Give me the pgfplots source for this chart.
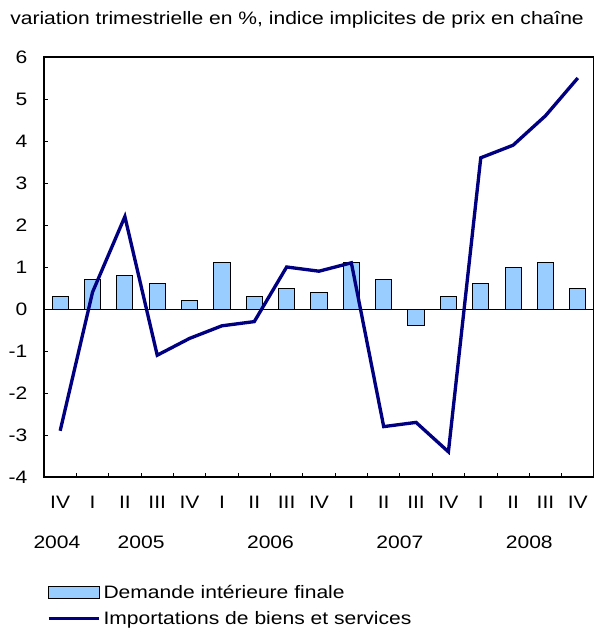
\documentclass[border=0pt]{standalone}
\usepackage{pgfplots}
\pgfplotsset{compat=1.18}
\usepackage{fontspec}
\setmainfont{Liberation Sans}[FakeStretch=1.17]
\definecolor{barblue}{RGB}{153,204,255}
\definecolor{linenavy}{RGB}{0,0,128}
\newcommand{\chartfont}{\fontsize{13.5}{16}\selectfont}

\begin{document}
\begin{tikzpicture}[font=\chartfont]
\begin{axis}[
  name=ax,
  scale only axis,
  width=412.5pt, height=315pt,
  xmin=-0.5, xmax=16.5,
  ymin=-4, ymax=6,
  ytick={-4,...,6},
  xtick={0.5,1.5,...,15.5},
  xticklabels={},
  extra x ticks={0,...,16},
  extra x tick labels={IV,I,II,III,IV,I,II,III,IV,I,II,III,IV,I,II,III,IV},
  extra x tick style={tick style={draw=none}},
  extra y ticks={0},
  extra y tick labels={},
  extra y tick style={grid=major, major grid style={black, line width=0.7pt}, tick style={draw=none}},
  tick align=inside,
  tick pos=left,
  major tick length=3pt,
  tick style={black, line width=0.6pt},
  axis line style={black, line width=0.9pt},
  /pgf/number format/assume math mode=true,
  ticklabel style={font=\chartfont},
  yticklabel style={xshift=-9pt},
  xticklabel style={anchor=base, yshift=-23.25pt, inner sep=0pt},
  clip=false,
  legend style={at={(axis description cs:0,0)}, anchor=north west,
    xshift=2.25pt, yshift=-79pt, draw=none, fill=none, inner sep=0pt,
    font=\chartfont, row sep=4pt, legend cell align=left},
]
\addplot[ybar, bar width=0.5, fill=barblue, draw=black, line width=0.75pt,
  legend image code/.code={\draw[fill=barblue, draw=black, line width=0.75pt] (0pt,-4.5pt) rectangle (38pt,4.5pt);}]
  coordinates {(0,0.3) (1,0.7) (2,0.8) (3,0.6) (4,0.2) (5,1.1) (6,0.3) (7,0.5) (8,0.4)
    (9,1.1) (10,0.7) (11,-0.4) (12,0.3) (13,0.6) (14,1.0) (15,1.1) (16,0.5)};
\addlegendentry{Demande intérieure finale}
\addplot[linenavy, line width=2.5pt, mark=none,
  legend image code/.code={\draw[linenavy, line width=2.2pt] (0pt,0pt) -- (38pt,0pt);}]
  coordinates {(0,-2.9) (1,0.4) (2,2.2) (3,-1.1) (4,-0.7) (5,-0.4) (6,-0.3) (7,1.0) (8,0.9)
    (9,1.1) (10,-2.8) (11,-2.7) (12,-3.4) (13,3.6) (14,3.9) (15,4.6) (16,5.5)};
\addlegendentry{Importations de biens et services}
\node[anchor=base, inner sep=0pt] at ([yshift=-53.25pt]axis cs:-0.1,-4) {2004};
\node[anchor=base, inner sep=0pt] at ([yshift=-53.25pt]axis cs:2.5,-4) {2005};
\node[anchor=base, inner sep=0pt] at ([yshift=-53.25pt]axis cs:6.5,-4) {2006};
\node[anchor=base, inner sep=0pt] at ([yshift=-53.25pt]axis cs:10.5,-4) {2007};
\node[anchor=base, inner sep=0pt] at ([yshift=-53.25pt]axis cs:14.5,-4) {2008};
\end{axis}
\node[anchor=base west, inner sep=0pt] at ([xshift=-25.5pt,yshift=24pt]ax.north west)
  {variation trimestrielle en \%, indice implicites de prix en chaîne};
\pgfresetboundingbox
\path[use as bounding box] ([xshift=-33pt,yshift=-120pt]ax.south west) rectangle ([yshift=42.75pt]ax.north east);
\end{tikzpicture}
\end{document}
